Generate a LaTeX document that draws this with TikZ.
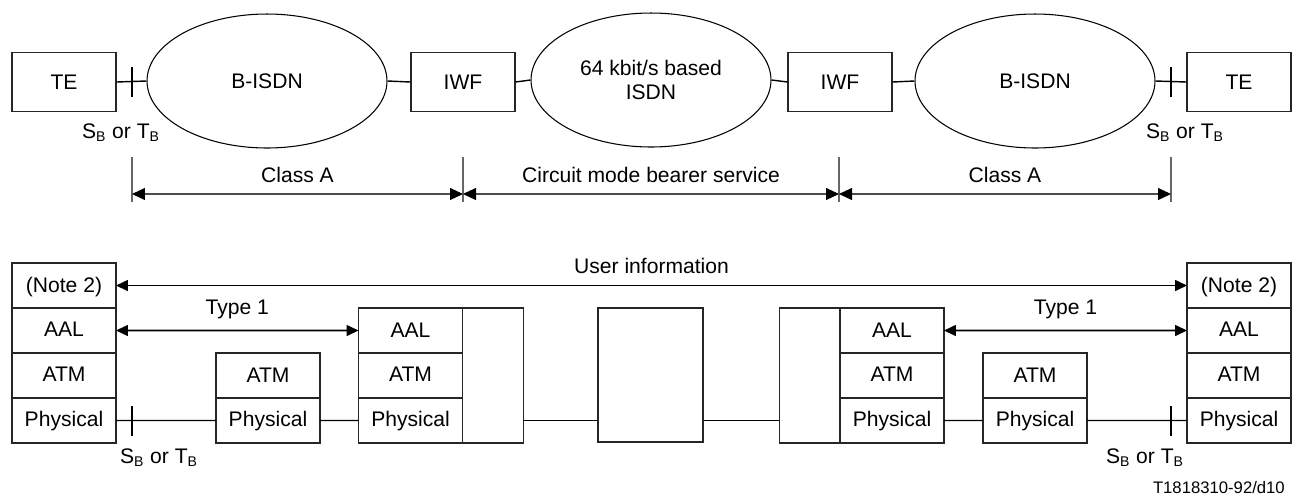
\documentclass[tikz,border=0pt]{standalone}
\usepackage{fontspec}
\setmainfont{Liberation Sans}
\usepackage{tikz}
\usetikzlibrary{shapes.geometric, arrows.meta, positioning}

\begin{document}
\begin{tikzpicture}[x=0.02cm, y=-0.02cm,
    every node/.style={font=\fontsize{12}{14}\selectfont},
    box/.style={draw=black!85, line width=0.6pt, minimum width=2.08cm, minimum height=1.18cm, inner sep=0pt},
    net/.style={draw, ellipse, line width=0.6pt, minimum width=4.8cm, minimum height=2.68cm, inner sep=0pt, align=center},
    cell/.style={draw=black!85, line width=0.6pt, minimum width=2.08cm, minimum height=0.9cm, inner sep=0pt, outer sep=0pt, text height=1.4ex, text depth=0pt},
    tallbox/.style={draw=black!85, line width=0.6pt, minimum width=1.22cm, minimum height=2.7cm, inner sep=0pt, outer sep=0pt},
    conn/.style={line width=0.8pt},
    tick/.style={line width=0.8pt},
    extline/.style={draw=black!60, line width=0.6pt},
    dimarrow/.style={draw=black!70, line width=0.6pt, {Triangle[length=0.26cm, width=0.24cm, black]}-{Triangle[length=0.26cm, width=0.24cm, black]}},
    infoarrow/.style={line width=0.9pt, {Triangle[length=0.24cm, width=0.22cm]}-{Triangle[length=0.24cm, width=0.22cm]}}]
  \useasboundingbox (0,0) rectangle (1292,495);

  % Upper part: network configuration
  \node[box] (teL) at (64, 82) {TE};
  \node[net] (bisdnL) at (267, 81) {B-ISDN};
  \node[box] (iwfL) at (463, 82) {IWF};
  \node[net] (isdn) at (651, 80) {64 kbit/s based\\ISDN};
  \node[box] (iwfR) at (840, 82) {IWF};
  \node[net] (bisdnR) at (1035, 81) {B-ISDN};
  \node[box] (teR) at (1239, 82) {TE};

  \draw[conn] (teL.east) -- (bisdnL.west);
  \draw[conn] (bisdnL.east) -- (iwfL.west);
  \draw[conn] (iwfL.east) -- (isdn.west);
  \draw[conn] (isdn.east) -- (iwfR.west);
  \draw[conn] (iwfR.east) -- (bisdnR.west);
  \draw[conn] (bisdnR.east) -- (teR.west);

  % Reference points
  \coordinate (sbTL) at (132, 82);
  \coordinate (sbTR) at (1171, 82);
  \draw[tick] (sbTL) ++(0,-15) -- ++(0,30);
  \draw[tick] (sbTR) ++(0,-15) -- ++(0,30);
  \node (refTL) at (121, 133) {S\textsubscript{B} or T\textsubscript{B}};
  \node (refTR) at (1185, 133) {S\textsubscript{B} or T\textsubscript{B}};

  % Service spans
  \foreach \x/\n in {132/1, 463/2, 839/3, 1171/4} {
    \coordinate (dim\n) at (\x, 194);
    \draw[extline] (\x, 157) -- (\x, 202);
  }
  \draw[dimarrow] (dim1) -- (dim2) node[midway, above=3pt] (spanA) {Class A};
  \draw[dimarrow] (dim2) -- (dim3) node[midway, above=3pt] (spanB) {Circuit mode bearer service};
  \draw[dimarrow] (dim3) -- (dim4) node[midway, above=3pt] (spanC) {Class A};

  % Lower part: protocol stacks
  \node[cell] (lnote) at (64, 285.5) {(Note 2)};
  \node[cell, below=0pt of lnote] (laal) {AAL};
  \node[cell, below=0pt of laal] (latm) {ATM};
  \node[cell, below=0pt of latm] (lphy) {Physical};

  \node[cell] (matmL) at (268, 375.5) {ATM};
  \node[cell, below=0pt of matmL] (mphyL) {Physical};

  \node[cell] (iaalL) at (410.5, 330.5) {AAL};
  \node[cell, below=0pt of iaalL] (iatmL) {ATM};
  \node[cell, below=0pt of iatmL] (iphyL) {Physical};
  \node[tallbox, right=0pt of iatmL] (tallL) {};

  \node[draw=black!85, line width=0.6pt, minimum width=2.1cm, minimum height=2.68cm] (midbox) at (650.5, 375) {};

  \node[cell] (iaalR) at (892, 330.5) {AAL};
  \node[cell, below=0pt of iaalR] (iatmR) {ATM};
  \node[cell, below=0pt of iatmR] (iphyR) {Physical};
  \node[tallbox, left=0pt of iatmR] (tallR) {};

  \node[cell] (matmR) at (1035, 375.5) {ATM};
  \node[cell, below=0pt of matmR] (mphyR) {Physical};

  \node[cell] (rnote) at (1239, 285.5) {(Note 2)};
  \node[cell, below=0pt of rnote] (raal) {AAL};
  \node[cell, below=0pt of raal] (ratm) {ATM};
  \node[cell, below=0pt of ratm] (rphy) {Physical};

  % Physical links
  \draw[conn] (lphy.east) -- (mphyL.west);
  \draw[conn] (mphyL.east) -- (iphyL.west);
  \draw[conn] (iphyL.east -| tallL.east) -- (iphyL.east -| midbox.west);
  \draw[conn] (iphyR.west -| midbox.east) -- (iphyR.west -| tallR.west);
  \draw[conn] (iphyR.east) -- (mphyR.west);
  \draw[conn] (mphyR.east) -- (rphy.west);

  \coordinate (sbBL) at (132, 421);
  \coordinate (sbBR) at (1171, 421);
  \draw[tick] (sbBL) ++(0,-15) -- ++(0,30);
  \draw[tick] (sbBR) ++(0,-15) -- ++(0,30);
  \node (refBL) at (159, 458) {S\textsubscript{B} or T\textsubscript{B}};
  \node (refBR) at (1145, 458) {S\textsubscript{B} or T\textsubscript{B}};

  % Peer relations
  \draw[infoarrow] (lnote.east) -- (rnote.west) node[midway, above=3pt] (uinfo) {User information};
  \draw[infoarrow] (laal.east) -- (iaalL.west) node[midway, above=3pt] (typeL) {Type 1};
  \draw[infoarrow] (iaalR.east) -- (raal.west) node[midway, above=3pt] (typeR) {Type 1};

  \node[anchor=east, font=\fontsize{9.5}{11}\selectfont] (figid) at (1291, 488) {T1818310-92/d10};
\end{tikzpicture}
\end{document}
